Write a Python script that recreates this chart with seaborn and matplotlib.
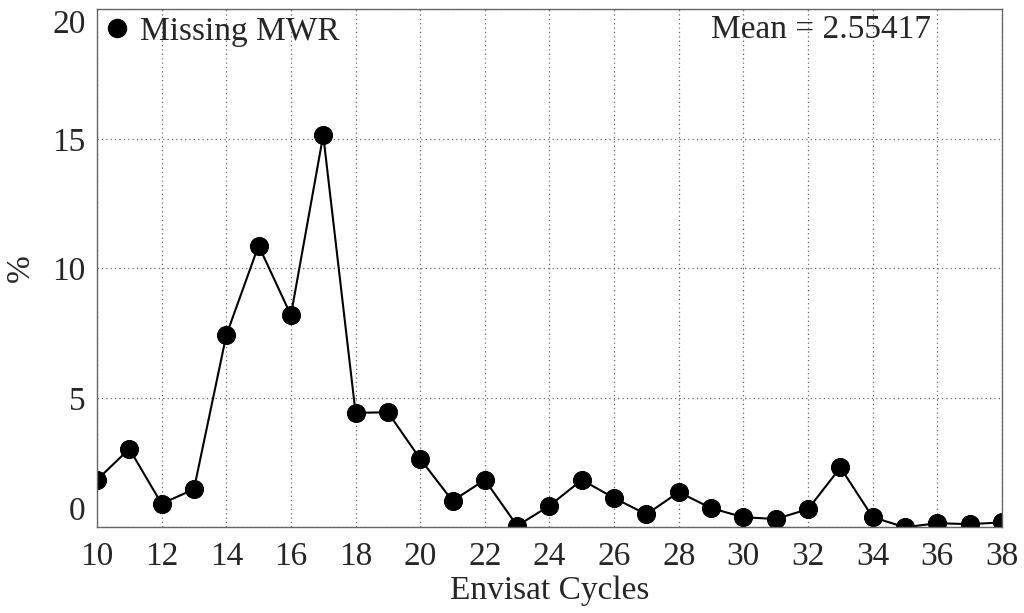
import numpy as np
import pandas as pd
import matplotlib
matplotlib.use("Agg")
import matplotlib.pyplot as plt
from matplotlib.lines import Line2D
import seaborn as sns

# Dados
ciclos = list(range(10, 39))
missing_mwr = [1.83, 3.03, 0.91, 1.47, 7.41, 10.88, 8.19, 15.14, 4.42, 4.44,
               2.64, 1.02, 1.83, 0.06, 0.83, 1.83, 1.13, 0.50, 1.36, 0.74,
               0.39, 0.32, 0.70, 2.31, 0.39, 0.00, 0.16, 0.12, 0.19]
texto_media = "Mean = 2.55417"

df = pd.DataFrame({"Ciclo": ciclos, "Pct": missing_mwr})

sns.set_style("white")
plt.rcParams['font.family'] = ['Liberation Serif', 'DejaVu Serif']

fig = plt.figure(figsize=(10.24, 6.13), dpi=100)
ax = fig.add_axes([0.0947, 0.1398, 0.8838, 0.845])

sns.lineplot(data=df, x="Ciclo", y="Pct", ax=ax, color="black", lw=1.5,
             marker="o", markersize=13, markeredgecolor="black")

ax.set_xlim(10, 38)
ax.set_ylim(0, 20)
ax.set_xticks(range(10, 39, 2))
ax.set_yticks([0, 5, 10, 15, 20])
ax.tick_params(axis="both", length=0, labelsize=24)
ax.tick_params(axis="x", pad=10)
ax.tick_params(axis="y", pad=8)
ax.grid(True, linestyle=(0, (1, 2.5)), color="#666666", lw=0.9)

for lado in ax.spines.values():
    lado.set_color("#666666")
    lado.set_linewidth(1.0)

ylabs = ax.get_yticklabels()
ylabs[0].set_va("bottom")
ylabs[-1].set_va("top")

ax.set_xlabel("Envisat Cycles", fontsize=24, labelpad=3)
ax.set_ylabel("%", fontsize=24, labelpad=12)

handle = Line2D([], [], marker="o", ls="none", color="black", markersize=13)
ax.legend(handles=[handle], labels=["Missing MWR"], loc="upper left",
          bbox_to_anchor=(0.0, 0.993), frameon=False, fontsize=24,
          handletextpad=0.2, borderaxespad=0.0, handlelength=1.0,
          borderpad=0.1)

ax.text(0.8, 0.96, texto_media, transform=ax.transAxes, ha="center",
        va="center", fontsize=24)

fig.savefig("out.png", dpi=100)
